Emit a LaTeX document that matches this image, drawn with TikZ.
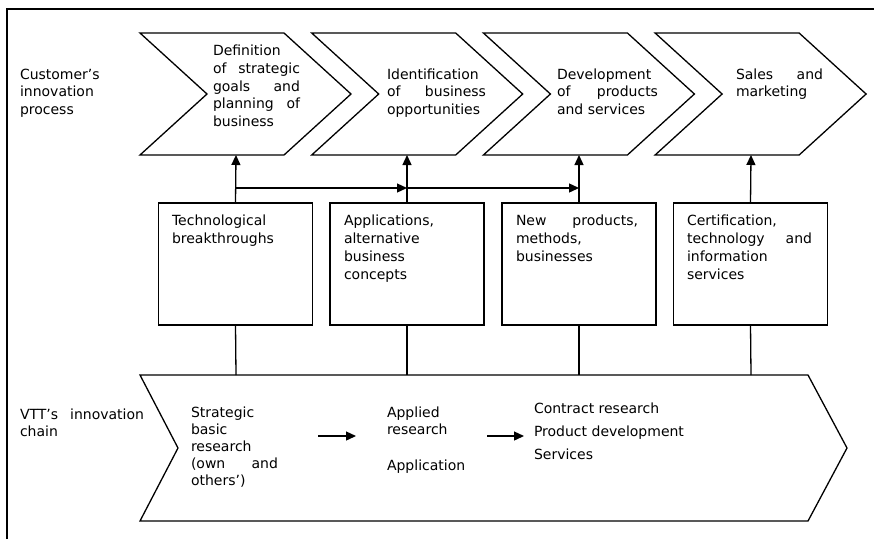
\documentclass[tikz,border=0pt]{standalone}
\usepackage{fontspec}
\setmainfont{DejaVu Sans}
\usetikzlibrary{arrows.meta}
\newcommand{\JL}[3]{\hbox to #1{#2\hfill #3}}
\newcommand{\TS}{\rule{0pt}{11pt}}
\begin{document}
\begin{tikzpicture}[x=1pt,y=-1pt,line width=1.3pt,
  every node/.style={inner sep=0pt,outer sep=0pt},
  txt/.style={anchor=north west,align=left,font=\fontsize{14}{17.4}\selectfont},
  boxtxt/.style={txt,font=\fontsize{14}{18}\selectfont},
  chev/.style={draw,line join=miter},
  bx/.style={draw,minimum width=154pt,minimum height=122pt,anchor=north west},
  arr/.style={-{Triangle[length=10pt,width=9pt]}},
]
\useasboundingbox (0,0) rectangle (874,539);
% frame
\draw[line width=1.5pt] (7,539) -- (7,9) -- (874,9);

% top chevrons
\foreach \i/\x in {1/140,2/311.7,3/483.4,4/655.1}{
  \draw[chev] (\x,33) -- ++(144,0) -- ++(67,61) -- ++(-67,61) -- ++(-144,0) -- ++(67,-61) -- cycle;
}
\coordinate (c1) at (236,155);
\coordinate (c2) at (407,155);
\coordinate (c3) at (579,155);
\coordinate (c4) at (751,155);

% bottom chevron
\draw[chev] (140,375) -- (808,375) -- (847,448) -- (808,521) -- (140,521) -- (178,448) -- cycle;
\coordinate (d1) at (236,375);
\coordinate (d2) at (407,375);
\coordinate (d3) at (579,375);
\coordinate (d4) at (751,375);

% boxes
\node[bx] (b1) at (158.5,203) {};
\node[bx] (b2) at (330,203) {};
\node[bx] (b3) at (502,203) {};
\node[bx] (b4) at (673.5,203) {};

% connectors
\draw[arr] (b1.north) -- (c1);
\draw[arr] (b2.north) -- (c2);
\draw[arr] (b3.north) -- (c3);
\draw[arr] (b4.north) -- (c4);
\coordinate (h1) at (236,188);
\coordinate (h2) at (407,188);
\coordinate (h3) at (579,188);
\draw[arr] (h1) -- (h2);
\draw[arr] (h2) -- (h3);
\draw (b1.south) -- (d1);
\draw (b2.south) -- (d2);
\draw (b3.south) -- (d3);
\draw (b4.south) -- (d4);

% bottom arrows
\coordinate (e1) at (318,436);
\coordinate (e2) at (356,436);
\coordinate (e3) at (487,436);
\coordinate (e4) at (524,436);
\draw[arr] (e1) -- (e2);
\draw[arr] (e3) -- (e4);

% texts (position = first baseline minus 11pt)
\node[txt] (tcust) at (20,68.3) {\TS Customer’s\\innovation\\process};
\node[txt,font=\fontsize{14}{17.8}\selectfont] (t1) at (213,44.5) {\TS Definition\\\JL{87pt}{of}{strategic}\\\JL{87pt}{goals}{and}\\\JL{87pt}{planning}{of}\\business};
\node[txt] (t2) at (387,68.3) {\TS Identification\\\JL{99pt}{of}{business}\\opportunities};
\node[txt] (t3) at (557,68.3) {\TS Development\\\JL{101pt}{of}{products}\\and services};
\node[txt] (t4) at (736,68.3) {\TS\JL{87pt}{Sales}{and}\\marketing};

\node[boxtxt] (tb1) at (172,214) {\TS Technological\\breakthroughs};
\node[boxtxt] (tb2) at (344,214) {\TS Applications,\\alternative\\business\\concepts};
\node[boxtxt] (tb3) at (516,214) {\TS\JL{122pt}{New}{products,}\\methods,\\businesses};
\node[boxtxt] (tb4) at (687,214) {\TS Certification,\\\JL{125pt}{technology}{and}\\information\\services};

\node[txt] (tvtt) at (20,408) {\TS\JL{124pt}{VTT’s}{innovation}\\chain};
\node[txt,font=\fontsize{14}{17}\selectfont] (ts) at (191,406.5) {\TS Strategic\\basic\\research\\\JL{87pt}{(own}{and}\\others’)};
\node[txt,font=\fontsize{14}{17}\selectfont] (ta) at (387,406.5) {\TS Applied\\research\\[19pt]Application};
\node[txt,font=\fontsize{14}{23}\selectfont] (tc) at (534,402.5) {\TS Contract research\\Product development\\Services};
\end{tikzpicture}
\end{document}
